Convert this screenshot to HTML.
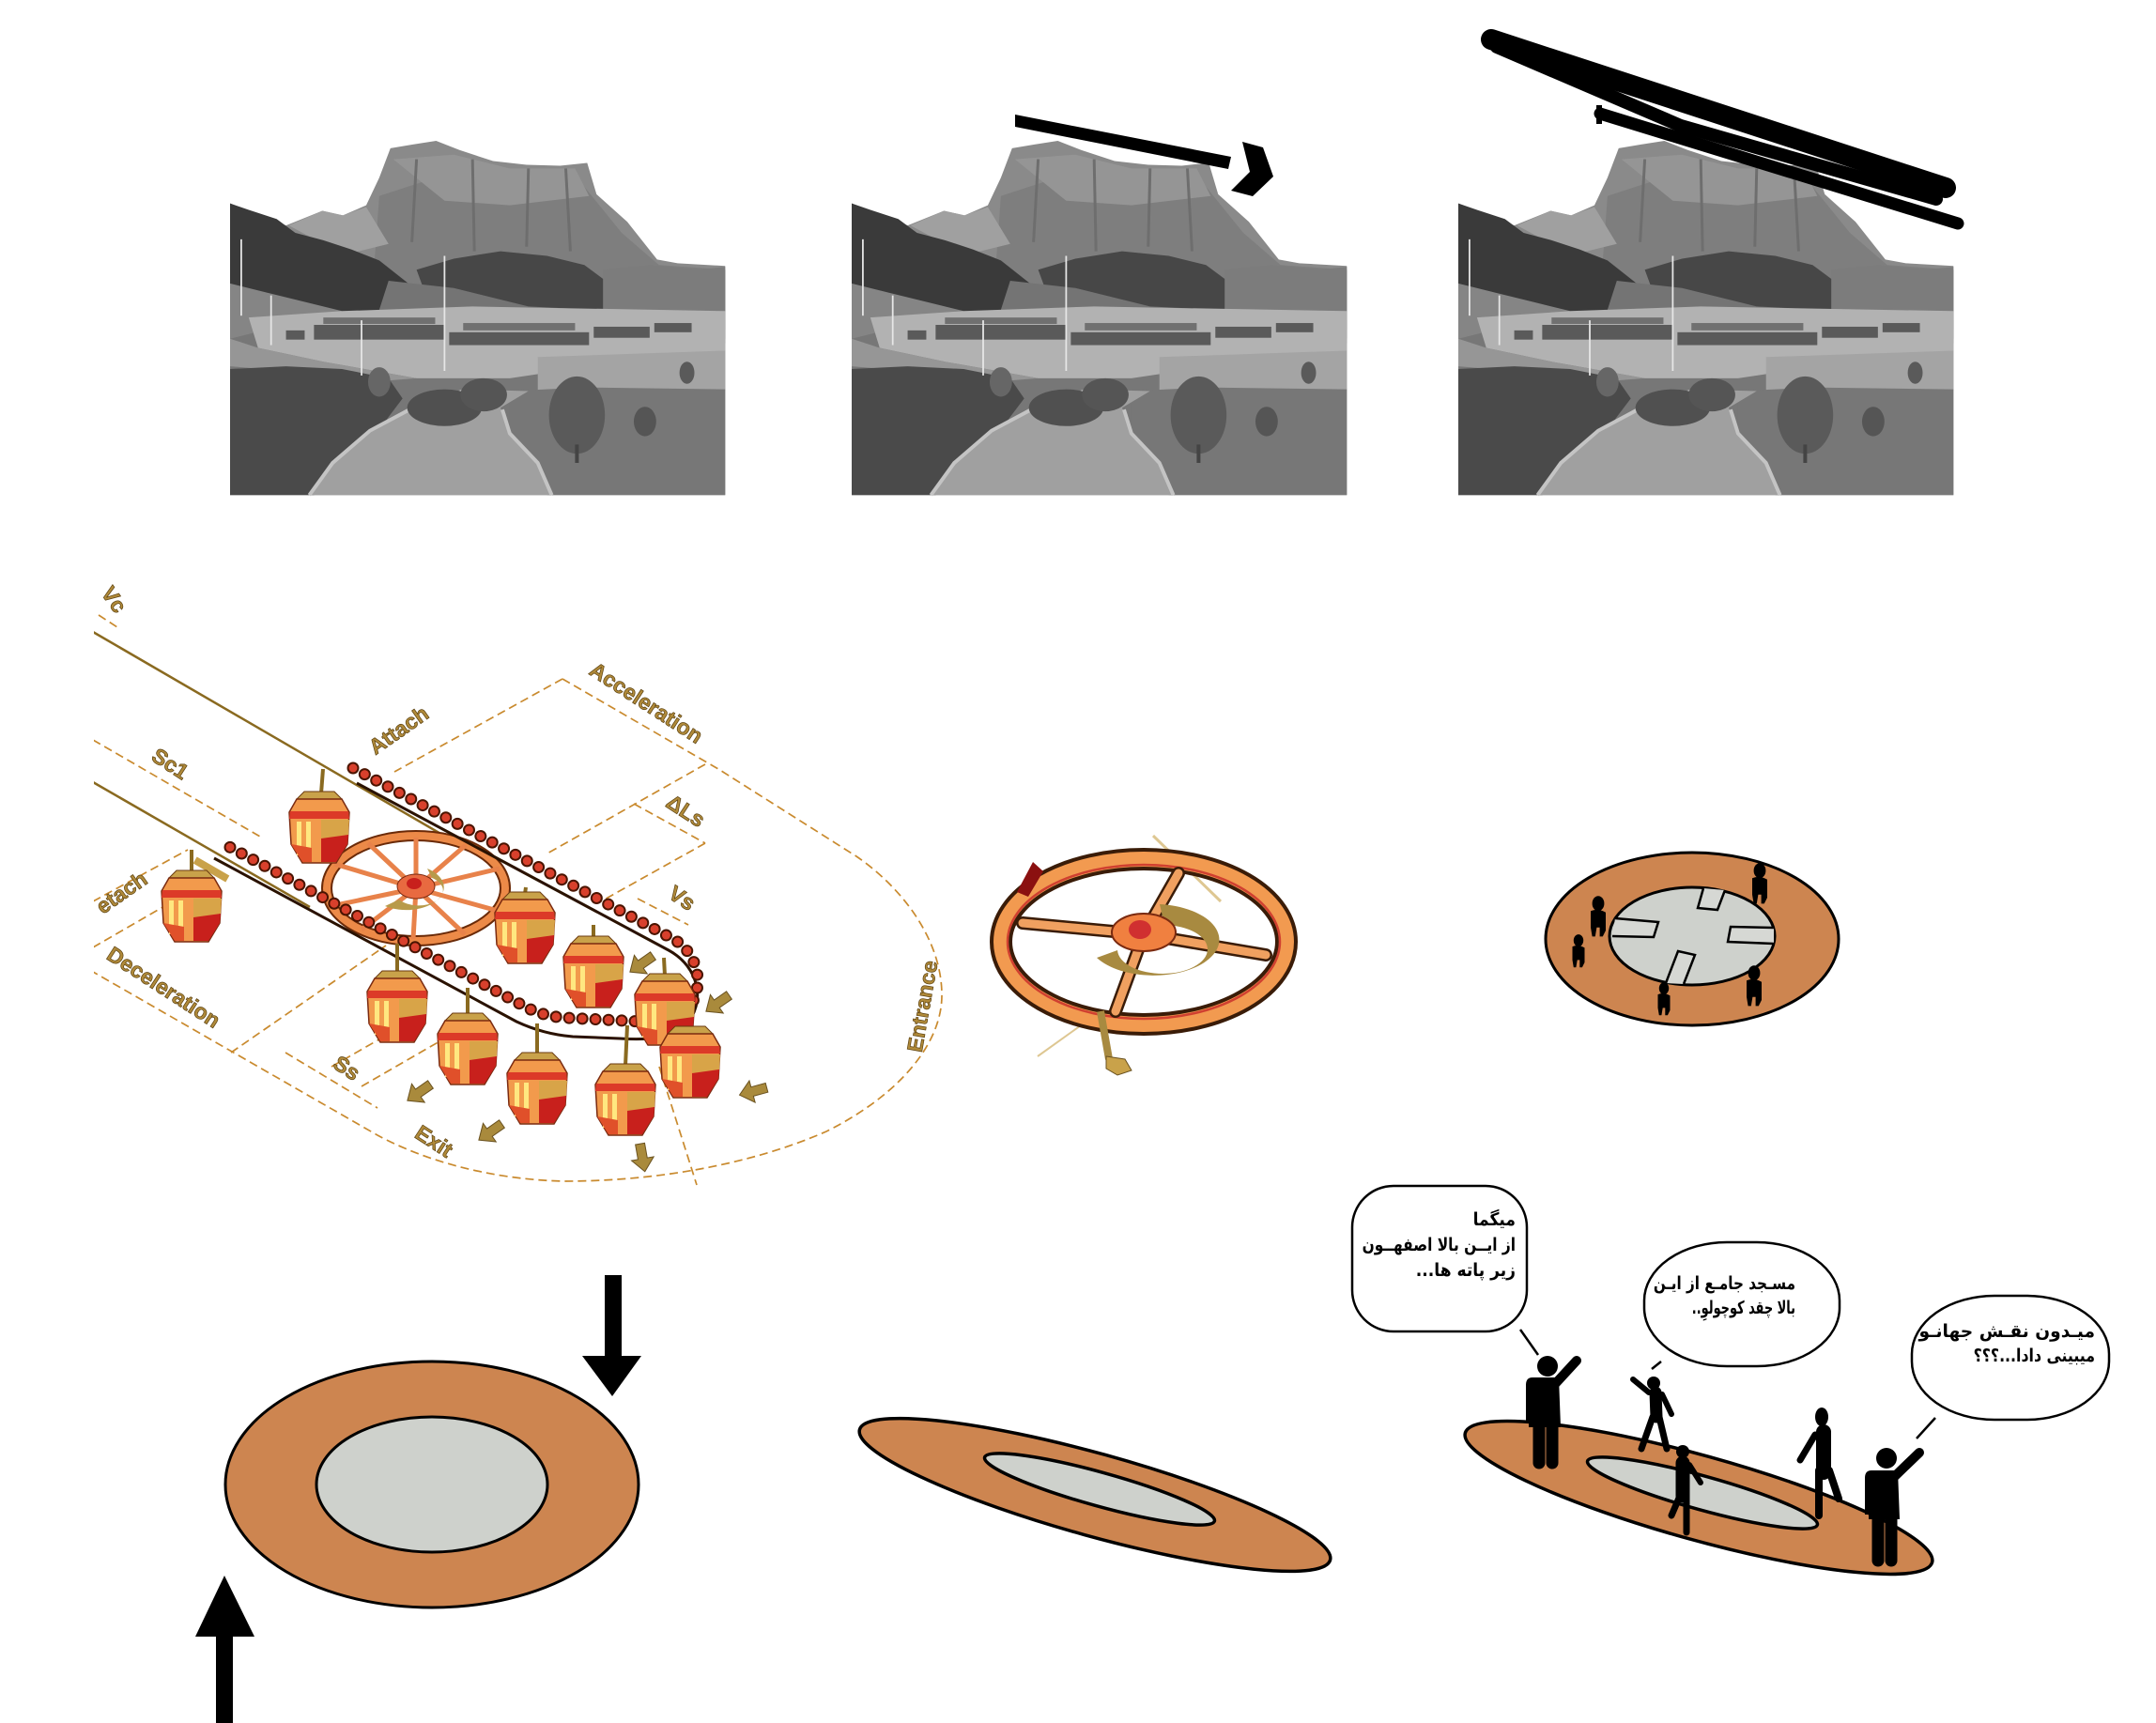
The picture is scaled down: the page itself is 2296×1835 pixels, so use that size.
<!DOCTYPE html>
<html><head><meta charset="utf-8">
<style>
html,body{margin:0;padding:0;background:#fff;}
body{width:2296px;height:1835px;position:relative;overflow:hidden;}
svg{position:absolute;left:0;top:0;}
.fa{position:absolute;width:300px;height:26px;direction:rtl;text-align:right;font-family:"DejaVu Sans",sans-serif;font-weight:bold;font-size:19px;line-height:26px;white-space:nowrap;color:#000;transform-origin:right center;}
</style></head>
<body>
<svg width="2296" height="1835" viewBox="0 0 2296 1835" xmlns="http://www.w3.org/2000/svg">
<defs>
 <g id="photo">
  <polygon points="0,68 60,92 531,140 531,385 0,385" fill="#777"/>
  <polygon points="60,92 99,76 121,81 146,70 160,40 172,8 196,4 221,0 246,10 282,22 318,26 354,27 383,24 393,58 426,88 458,129 480,133 531,136 531,220 60,220" fill="#8a8a8a"/>
  <polygon points="160,60 220,40 300,60 380,50 420,100 460,135 531,140 531,200 150,200" fill="#7e7e7e"/>
  <polygon points="175,20 240,15 300,30 370,30 385,60 300,70 230,65" fill="#959595"/>
  <g stroke="#6e6e6e" stroke-width="3">
   <line x1="200" y1="20" x2="195" y2="110"/>
   <line x1="260" y1="20" x2="262" y2="120"/>
   <line x1="320" y1="30" x2="318" y2="115"/>
   <line x1="360" y1="30" x2="365" y2="120"/>
  </g>
  <polygon points="63,92 99,76 121,81 146,72 170,112 130,122 100,112" fill="#a0a0a0"/>
  <polygon points="0,68 20,75 50,85 70,100 100,108 130,118 160,130 185,150 210,170 225,190 200,205 0,205" fill="#3a3a3a"/>
  <polygon points="200,140 240,128 290,120 340,125 380,135 400,150 420,170 400,190 300,195 220,195" fill="#474747"/>
  <polygon points="400,140 450,135 500,140 531,137 531,205 400,205" fill="#7c7c7c"/>
  <polygon points="170,152 240,160 320,180 420,185 531,195 531,215 150,215" fill="#747474"/>
  <polygon points="0,155 40,165 80,175 120,185 60,200 0,215" fill="#858585"/>
  <polygon points="20,192 120,185 260,180 531,185 531,230 420,240 300,258 200,258 100,240 30,225" fill="#b2b2b2"/>
  <polygon points="0,215 30,225 100,240 200,258 150,262 60,250 0,245" fill="#969696"/>
  <g fill="#5a5a5a">
   <rect x="90" y="200" width="140" height="16"/>
   <rect x="235" y="208" width="150" height="14"/>
   <rect x="390" y="202" width="60" height="12"/>
   <rect x="60" y="206" width="20" height="10"/>
   <rect x="455" y="198" width="40" height="10"/>
  </g>
  <g fill="#707070">
   <rect x="100" y="192" width="120" height="7"/>
   <rect x="250" y="198" width="120" height="8"/>
  </g>
  <polygon points="330,235 531,228 531,272 330,272" fill="#a4a4a4"/>
  <polygon points="300,272 380,268 531,270 531,385 340,385 320,350 300,315" fill="#777"/>
  <polygon points="0,248 60,245 120,248 170,258 185,280 170,300 150,330 120,360 90,385 0,385" fill="#4a4a4a"/>
  <polygon points="85,385 345,385 330,350 300,318 290,290 320,272 250,270 200,285 150,315 110,350" fill="#a0a0a0"/>
  <polyline points="85,385 110,350 150,315 200,288 250,272" fill="none" stroke="#c4c4c4" stroke-width="4"/>
  <polyline points="345,385 330,350 300,318 292,292" fill="none" stroke="#c4c4c4" stroke-width="4"/>
  <ellipse cx="230" cy="290" rx="40" ry="20" fill="#505050"/>
  <ellipse cx="272" cy="276" rx="25" ry="18" fill="#555"/>
  <ellipse cx="372" cy="298" rx="30" ry="42" fill="#5a5a5a"/>
  <rect x="370" y="330" width="4" height="20" fill="#444"/>
  <ellipse cx="445" cy="305" rx="12" ry="16" fill="#555"/>
  <ellipse cx="490" cy="252" rx="8" ry="12" fill="#5a5a5a"/>
  <ellipse cx="160" cy="262" rx="12" ry="16" fill="#666"/>
  <g stroke="#e6e6e6" stroke-width="1.8">
   <line x1="12" y1="107" x2="12" y2="190"/>
   <line x1="44" y1="168" x2="44" y2="222"/>
   <line x1="141" y1="195" x2="141" y2="255"/>
   <line x1="230" y1="125" x2="230" y2="250"/>
  </g>
 </g>
 <g id="cab">
  <polygon points="-16,-38 16,-38 24,-30 -24,-30" fill="#c9a24a" stroke="#6a3a10" stroke-width="1"/>
  <polygon points="-24,-30 24,-30 32,-16 30,18 18,38 -18,38 -30,18 -32,-16" fill="#f29a4c" stroke="#7a2a10" stroke-width="1.5"/>
  <polygon points="-31,-17 31,-17 32,-9 -32,-9" fill="#dc3a28"/>
  <polygon points="2,-8 32,-8 31,8 2,12" fill="#d8a448"/>
  <polygon points="2,12 31,8 30,18 18,37 2,37" fill="#c8201c"/>
  <rect x="-24" y="-6" width="5" height="36" fill="#ffe880"/>
  <rect x="-14" y="-6" width="5" height="40" fill="#ffe880"/>
  <polygon points="-30,18 -18,37 -8,37 -8,22" fill="#e0502a"/>
 </g>
 <polygon id="barr" points="-16,0 -2,-12 -2,-5 14,-5 14,5 -2,5 -2,12" fill="#a98a3c" stroke="#6a5220" stroke-width="1"/>
 <g id="tiny">
  <ellipse cx="0" cy="-8" rx="4" ry="5"/>
  <path d="M-5,-3 Q0,-5 5,-2 L5,10 L3,14 L1,14 L1,8 L-1,8 L-2,14 L-4,14 L-5,8 Z"/>
 </g>
</defs>

<!-- Photos -->
<use href="#photo" transform="translate(245,150) scale(0.993,0.98)"/>
<use href="#photo" transform="translate(907,150) scale(0.993,0.98)"/>
<use href="#photo" transform="translate(1553,150) scale(0.993,0.98)"/>

<!-- photo 2 strokes -->
<polygon points="1081,122 1081,135 1308,180 1311,167" fill="#000"/>
<polygon points="1323,151 1345,157 1356,188 1334,209 1311,203 1331,183" fill="#000"/>
<!-- photo 3 scribble -->
<g stroke="#000" fill="none">
 <line x1="1588" y1="42" x2="2072" y2="200" stroke-width="22" stroke-linecap="round"/>
 <polyline points="1594,50 1790,134 2062,212" stroke-width="14" stroke-linecap="round" stroke-linejoin="round"/>
 <line x1="1704" y1="121" x2="2085" y2="238" stroke-width="13" stroke-linecap="round"/>
</g>
<rect x="1700" y="112" width="6" height="20" fill="#000"/>

<!-- Cable car diagram -->
<g fill="none" stroke="#c98a2e" stroke-width="1.7" stroke-dasharray="9 5">
 <path d="M599,723 L765,819 L912,912 C960,945 1003,1000 1003,1060 C1003,1110 960,1165 880,1205 C800,1240 700,1258 600,1258 C520,1256 450,1235 402,1209 L99,1035"/>
 <line x1="99" y1="788" x2="277" y2="891"/>
 <line x1="599" y1="723" x2="420" y2="822"/>
 <line x1="751" y1="814" x2="581" y2="910"/>
 <line x1="675" y1="856" x2="751" y2="898"/>
 <line x1="751" y1="898" x2="640" y2="960"/>
 <line x1="679" y1="957" x2="733" y2="985"/>
 <line x1="304" y1="1121" x2="402" y2="1180"/>
 <line x1="353" y1="1136" x2="430" y2="1092"/>
 <line x1="385" y1="1157" x2="470" y2="1108"/>
 <line x1="246" y1="1121" x2="411" y2="1007"/>
 <line x1="99" y1="1009" x2="215" y2="942"/>
 <line x1="99" y1="960" x2="200" y2="905"/>
 <line x1="702" y1="1136" x2="742" y2="1262"/>
 <line x1="105" y1="655" x2="125" y2="668"/>
</g>
<g stroke="#8a6a20" stroke-width="2.5">
 <line x1="99" y1="673" x2="478" y2="893"/>
 <line x1="99" y1="833" x2="330" y2="966"/>
</g>
<!-- wheel in diagram -->
<g>
 <ellipse cx="443" cy="946" rx="95" ry="56" fill="none" stroke="#6a2a08" stroke-width="12"/>
 <ellipse cx="443" cy="946" rx="95" ry="56" fill="none" stroke="#ec8a48" stroke-width="8"/>
 <g stroke="#e8824a" stroke-width="5">
  <line x1="443" y1="946" x2="443" y2="892"/>
  <line x1="443" y1="946" x2="496" y2="900"/>
  <line x1="443" y1="946" x2="532" y2="925"/>
  <line x1="443" y1="946" x2="530" y2="970"/>
  <line x1="443" y1="946" x2="495" y2="995"/>
  <line x1="443" y1="946" x2="440" y2="1000"/>
  <line x1="443" y1="946" x2="385" y2="990"/>
  <line x1="443" y1="946" x2="353" y2="965"/>
  <line x1="443" y1="946" x2="356" y2="920"/>
  <line x1="443" y1="946" x2="392" y2="898"/>
 </g>
 <path d="M455,925 A40,24 0 1,1 410,965 L425,958 A26,16 0 1,0 460,935 Z" fill="#b89a4a"/>
 <ellipse cx="443" cy="944" rx="20" ry="13" fill="#e86a40" stroke="#7a2a10"/>
 <ellipse cx="441" cy="941" rx="8" ry="6" fill="#c8201c"/>
</g>
<!-- chain -->
<path d="M380,834 L712,1012 C745,1030 752,1068 730,1092 C715,1106 690,1108 660,1106 L610,1104 C585,1102 565,1095 550,1088 L228,914" fill="none" stroke="#2a1200" stroke-width="3"/>
<path d="M376,818 L715,999 C740,1012 748,1040 740,1062 C732,1082 705,1090 684,1088 L603,1084 C585,1083 570,1078 559,1072 L237,898" fill="none" stroke="#4a1400" stroke-width="13" stroke-linecap="round" stroke-dasharray="0 14"/>
<path d="M376,818 L715,999 C740,1012 748,1040 740,1062 C732,1082 705,1090 684,1088 L603,1084 C585,1083 570,1078 559,1072 L237,898" fill="none" stroke="#d8402c" stroke-width="9" stroke-linecap="round" stroke-dasharray="0 14"/>
<!-- hangers -->
<g stroke="#8a6a20" stroke-width="4">
 <line x1="344" y1="819" x2="342" y2="845"/>
 <line x1="204" y1="905" x2="204" y2="929"/>
 <line x1="560" y1="945" x2="559" y2="952"/>
 <line x1="632" y1="985" x2="632" y2="999"/>
 <line x1="707" y1="1020" x2="708" y2="1039"/>
 <line x1="423" y1="1005" x2="423" y2="1036"/>
 <line x1="498" y1="1052" x2="498" y2="1081"/>
 <line x1="572" y1="1090" x2="572" y2="1123"/>
 <line x1="668" y1="1092" x2="666" y2="1135"/>
 <line x1="736" y1="1080" x2="735" y2="1095"/>
</g>
<rect x="205" y="922" width="40" height="8" fill="#c9a24a" transform="rotate(30 225 926)"/>
<!-- cabins -->
<use href="#cab" x="340" y="881"/>
<use href="#cab" x="204" y="965"/>
<use href="#cab" x="559" y="988"/>
<use href="#cab" x="632" y="1035"/>
<use href="#cab" x="708" y="1075"/>
<use href="#cab" x="423" y="1072"/>
<use href="#cab" x="498" y="1117"/>
<use href="#cab" x="572" y="1159"/>
<use href="#cab" x="666" y="1171"/>
<use href="#cab" x="735" y="1131"/>
<!-- brown arrows -->
<use href="#barr" transform="translate(684,1026) rotate(-35)"/>
<use href="#barr" transform="translate(765,1068) rotate(-35)"/>
<use href="#barr" transform="translate(447,1163) rotate(-35)"/>
<use href="#barr" transform="translate(523,1205) rotate(-35)"/>
<use href="#barr" transform="translate(684,1232) rotate(-100)"/>
<use href="#barr" transform="translate(803,1162) rotate(-15)"/>
<!-- labels -->
<g font-family="Liberation Sans, sans-serif" font-weight="bold" font-size="23" fill="#b08a3a" stroke="#5a4010" stroke-width="0.7" text-anchor="middle">
 <text transform="translate(115,643) rotate(55)">Vc</text>
 <text transform="translate(429,784) rotate(-35)">Attach</text>
 <text transform="translate(684,755) rotate(33)">Acceleration</text>
 <text transform="translate(177,820) rotate(33)">Sc1</text>
 <text transform="translate(726,870) rotate(33)">ΔLs</text>
 <text transform="translate(722,963) rotate(33)">Vs</text>
 <text transform="translate(134,957) rotate(-35)">etach</text>
 <text transform="translate(170,1058) rotate(33)">Deceleration</text>
 <text transform="translate(365,1144) rotate(33)">Ss</text>
 <text transform="translate(458,1222) rotate(33)">Exit</text>
 <text transform="translate(990,1073) rotate(-80)">Entrance</text>
</g>
<rect x="0" y="600" width="100" height="700" fill="#fff"/>

<!-- middle wheel -->
<g>
 <line x1="1228" y1="890" x2="1300" y2="960" stroke="#c9a24a" stroke-width="3" opacity="0.6"/>
 <line x1="1105" y1="1125" x2="1165" y2="1082" stroke="#c9a24a" stroke-width="2" opacity="0.6"/>
 <ellipse cx="1218" cy="1003" rx="152" ry="88" fill="none" stroke="#3a1c08" stroke-width="24"/>
 <ellipse cx="1218" cy="1003" rx="152" ry="88" fill="none" stroke="#f29a50" stroke-width="16"/>
 <ellipse cx="1218" cy="1003" rx="145" ry="82" fill="none" stroke="#d04030" stroke-width="2.5"/>
 <g stroke="#3a1c08" stroke-width="14" stroke-linecap="round">
  <line x1="1218" y1="995" x2="1255" y2="930"/>
  <line x1="1218" y1="995" x2="1089" y2="983"/>
  <line x1="1218" y1="995" x2="1348" y2="1017"/>
  <line x1="1218" y1="995" x2="1188" y2="1077"/>
 </g>
 <g stroke="#f0a060" stroke-width="9" stroke-linecap="round">
  <line x1="1218" y1="995" x2="1255" y2="930"/>
  <line x1="1218" y1="995" x2="1089" y2="983"/>
  <line x1="1218" y1="995" x2="1348" y2="1017"/>
  <line x1="1218" y1="995" x2="1188" y2="1077"/>
 </g>
 <path d="M1235,963 A70,38 0 1,1 1168,1020 L1190,1012 A48,26 0 1,0 1240,985 Z" fill="#a88a40"/>
 <ellipse cx="1218" cy="993" rx="34" ry="20" fill="#f08040" stroke="#7a2a10" stroke-width="2"/>
 <ellipse cx="1214" cy="990" rx="12" ry="10" fill="#d03030"/>
 <line x1="1172" y1="1077" x2="1181" y2="1128" stroke="#a88a40" stroke-width="8"/>
 <polygon points="1178,1125 1198,1128 1205,1140 1190,1145 1178,1138" fill="#c9a24a" stroke="#6a5220"/>
 <polygon points="1083,950 1100,918 1111,928 1095,955" fill="#8b1010"/>
</g>

<!-- circle plan -->
<g stroke="#000" stroke-width="3">
 <ellipse cx="1802" cy="1000" rx="156" ry="92" fill="#cd8550"/>
 <ellipse cx="1802" cy="997" rx="88" ry="52" fill="#ced1cc"/>
</g>
<g fill="#d6d8d4" stroke="#000" stroke-width="2.5">
 <polyline points="1814,946 1808,967 1829,969 1837,948"/>
 <polyline points="1720,978 1766,982 1761,998 1717,997"/>
 <polyline points="1889,988 1843,987 1840,1003 1889,1005"/>
 <polyline points="1774,1047 1787,1013 1805,1017 1793,1048"/>
</g>
<g fill="#000">
 <use href="#tiny" transform="translate(1874,940) scale(1.6)"/>
 <use href="#tiny" transform="translate(1702,975) scale(1.6)"/>
 <use href="#tiny" transform="translate(1681,1012) scale(1.3)"/>
 <use href="#tiny" transform="translate(1772,1063) scale(1.3)"/>
 <use href="#tiny" transform="translate(1868,1049) scale(1.6)"/>
</g>

<!-- bottom-left plan with arrows -->
<g stroke="#000" stroke-width="3">
 <ellipse cx="460" cy="1581" rx="220" ry="131" fill="#cd8550"/>
 <ellipse cx="460" cy="1581" rx="123" ry="72" fill="#ced1cc"/>
</g>
<rect x="644" y="1358" width="18" height="88" fill="#000"/>
<polygon points="620,1444 683,1444 652,1487" fill="#000"/>
<rect x="230" y="1740" width="18" height="95" fill="#000"/>
<polygon points="208,1743 271,1743 239,1678" fill="#000"/>

<!-- middle flat ellipse -->
<g stroke="#000" stroke-width="3.5">
 <ellipse cx="1166" cy="1592" rx="260" ry="44" transform="rotate(15.5 1166 1592)" fill="#cd8550"/>
 <ellipse cx="1171" cy="1586" rx="127" ry="18" transform="rotate(15.5 1171 1586)" fill="#ced1cc"/>
</g>

<!-- right flat ellipse with people -->
<g stroke="#000" stroke-width="3.5">
 <ellipse cx="1809" cy="1595" rx="258" ry="45" transform="rotate(15.5 1809 1595)" fill="#cd8550"/>
 <ellipse cx="1813" cy="1590" rx="127" ry="18" transform="rotate(15.5 1813 1590)" fill="#ced1cc"/>
</g>
<g fill="#000" stroke="#000" stroke-linecap="round">
 <!-- person 1 -->
 <circle cx="1648" cy="1455" r="11" stroke="none"/>
 <path d="M1632,1467 L1660,1467 L1662,1520 L1628,1520 L1628,1515 L1625,1515 L1625,1475 Q1625,1467 1632,1467 Z" stroke="none"/>
 <line x1="1639" y1="1515" x2="1639" y2="1558" stroke-width="13"/>
 <line x1="1653" y1="1515" x2="1653" y2="1558" stroke-width="13"/>
 <line x1="1656" y1="1474" x2="1679" y2="1449" stroke-width="10"/>
 <!-- person 2 -->
 <circle cx="1761" cy="1473" r="7" stroke="none"/>
 <line x1="1763" y1="1483" x2="1764" y2="1509" stroke-width="13"/>
 <line x1="1760" y1="1509" x2="1748" y2="1543" stroke-width="7"/>
 <line x1="1767" y1="1509" x2="1775" y2="1543" stroke-width="7"/>
 <line x1="1756" y1="1483" x2="1739" y2="1469" stroke-width="6"/>
 <line x1="1770" y1="1485" x2="1780" y2="1506" stroke-width="6"/>
 <!-- person 3 -->
 <circle cx="1792" cy="1546" r="7" stroke="none"/>
 <line x1="1792" y1="1558" x2="1792" y2="1593" stroke-width="15"/>
 <line x1="1789" y1="1593" x2="1780" y2="1614" stroke-width="7"/>
 <line x1="1796" y1="1593" x2="1796" y2="1632" stroke-width="7"/>
 <line x1="1799" y1="1560" x2="1811" y2="1579" stroke-width="6"/>
 <!-- person 4 -->
 <ellipse cx="1940" cy="1509" rx="7" ry="10" stroke="none"/>
 <line x1="1942" y1="1525" x2="1942" y2="1568" stroke-width="16"/>
 <line x1="1933" y1="1528" x2="1917" y2="1555" stroke-width="7"/>
 <line x1="1937" y1="1566" x2="1937" y2="1614" stroke-width="8"/>
 <line x1="1948" y1="1566" x2="1958" y2="1596" stroke-width="8"/>
 <!-- person 5 -->
 <circle cx="2009" cy="1553" r="11" stroke="none"/>
 <path d="M1993,1566 L2021,1566 L2023,1618 L1990,1618 L1990,1613 L1986,1613 L1986,1574 Q1986,1566 1993,1566 Z" stroke="none"/>
 <line x1="2000" y1="1613" x2="2000" y2="1662" stroke-width="13"/>
 <line x1="2014" y1="1613" x2="2014" y2="1662" stroke-width="13"/>
 <line x1="2017" y1="1573" x2="2044" y2="1547" stroke-width="10"/>
</g>

<!-- speech bubbles -->
<g fill="#fff" stroke="#000" stroke-width="2.5">
 <rect x="1440" y="1263" width="186" height="155" rx="44" ry="44"/>
 <rect x="1751" y="1323" width="208" height="132" rx="88" ry="62"/>
 <rect x="2036" y="1380" width="210" height="132" rx="88" ry="62"/>
</g>
<g stroke="#000" stroke-width="2.5">
 <line x1="1619" y1="1416" x2="1638" y2="1443"/>
 <line x1="1769" y1="1450" x2="1759" y2="1458"/>
 <line x1="2061" y1="1510" x2="2041" y2="1532"/>
</g>
</svg>

<div class="fa" style="left:1314px;top:1286px;transform:scaleX(0.9);">میگما</div>
<div class="fa" style="left:1314px;top:1313px;transform:scaleX(0.81);">از ایــن بالا اصفهــون</div>
<div class="fa" style="left:1314px;top:1340px;transform:scaleX(0.9);">زیر پاته ها...</div>
<div class="fa" style="left:1612px;top:1354px;transform:scaleX(0.8);">مسـجد جامـع از ایـن</div>
<div class="fa" style="left:1612px;top:1380px;transform:scaleX(0.68);">بالا چقد کوچولوِ..</div>
<div class="fa" style="left:1931px;top:1405px;transform:scaleX(0.98);">میـدون نقـش جهانـو</div>
<div class="fa" style="left:1931px;top:1431px;transform:scaleX(0.83);">میبینی دادا...؟؟؟</div>
</body></html>
